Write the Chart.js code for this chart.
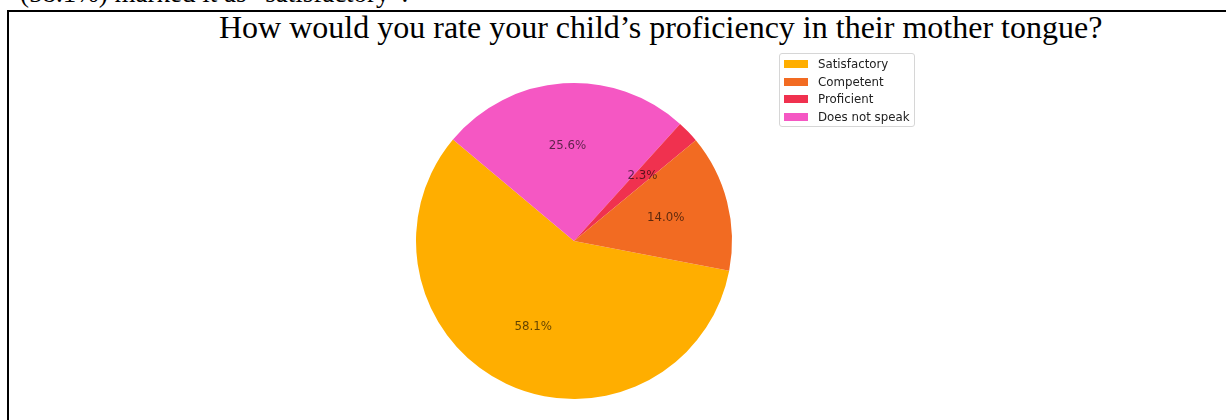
<!DOCTYPE html>
<html>
<head>
<meta charset="utf-8">
<script src="https://cdn.jsdelivr.net/npm/chart.js@4/dist/chart.umd.min.js"></script>
<style>
  html, body { margin: 0; padding: 0; background: #fff; }
  body { width: 1226px; height: 420px; position: relative; overflow: hidden; }
  .serif { font-family: "Liberation Serif", "Times New Roman", serif; color: #000; white-space: nowrap; position: absolute; }
  #prev { left: 20px; top: -19.6px; font-size: 27px; line-height: 27px; }
  #frame { position: absolute; left: 7px; top: 9.5px; right: -10px; bottom: -10px; border-left: 2px solid #000; border-top: 2px solid #000; }
  #title { left: 219px; top: 11.4px; font-size: 32px; line-height: 32px; }
  #pie { position: absolute; left: 0; top: 0; width: 1226px; height: 420px; }
  #legend { position: absolute; left: 779px; top: 53px; width: 134px; height: 72px; border: 1px solid #d6d6d6; border-radius: 3px; background: rgba(255,255,255,0.8); font-family: "DejaVu Sans", sans-serif; font-size: 11.8px; color: #222; }
  .item { position: absolute; left: 0; height: 14px; line-height: 14px; }
  .swatch { position: absolute; left: 4px; top: 3px; width: 24px; height: 8px; }
  .label { position: absolute; left: 38px; top: 0; white-space: nowrap; }
</style>
</head>
<body>
<div class="serif" id="prev">(58.1%) marked it as “satisfactory”.</div>
<div id="frame"></div>
<div class="serif" id="title">How would you rate your child’s proficiency in their mother tongue?</div>
<canvas id="pie" width="1226" height="420"></canvas>
<div id="legend"></div>
<script>
// Survey answers, in the order they appear in the legend
const categories = ['Satisfactory', 'Competent', 'Proficient', 'Does not speak'];
const shares = [58.1, 14.0, 2.3, 25.6];
const colors = ['#FFAE00', '#F26B22', '#F0314F', '#F557C3'];

// Wedges run counter-clockwise from 140°, so feed them clockwise to Chart.js
const drawOrder = [0, 3, 2, 1];
const startAngle = 140;              // counter-clockwise start, degrees from 3 o'clock
const firstShare = shares[0] / 100 * 360;
const rotation = 90 - (startAngle + firstShare) + 360; // Chart.js: clockwise from 12 o'clock

// Percentage text placed at 60% of the radius on each wedge
const pctLabels = {
  id: 'pctLabels',
  afterDatasetsDraw(chart) {
    const ctx = chart.ctx;
    const meta = chart.getDatasetMeta(0);
    const vals = chart.data.datasets[0].data;
    ctx.save();
    ctx.font = '11.8px "DejaVu Sans", sans-serif';
    ctx.fillStyle = 'rgba(0,0,0,0.62)';
    ctx.textAlign = 'center';
    ctx.textBaseline = 'middle';
    meta.data.forEach((arc, i) => {
      const p = arc.getProps(['x', 'y', 'startAngle', 'endAngle', 'outerRadius'], true);
      const mid = (p.startAngle + p.endAngle) / 2;
      const r = p.outerRadius * 0.6;
      ctx.fillText(vals[i].toFixed(1) + '%', p.x + r * Math.cos(mid), p.y + r * Math.sin(mid));
    });
    ctx.restore();
  }
};

new Chart(document.getElementById('pie'), {
  type: 'pie',
  data: {
    labels: drawOrder.map(i => categories[i]),
    datasets: [{
      data: drawOrder.map(i => shares[i]),
      backgroundColor: drawOrder.map(i => colors[i]),
      borderWidth: 0
    }]
  },
  options: {
    responsive: false,
    animation: false,
    rotation: rotation,
    layout: { padding: { left: 416, right: 1226 - 732, top: 83, bottom: 420 - 399 } },
    plugins: {
      legend: { display: false },
      title: { display: false },
      tooltip: { enabled: false }
    }
  },
  plugins: [pctLabels]
});

// Legend box, top right of the pie
const legend = document.getElementById('legend');
categories.forEach((name, i) => {
  const row = document.createElement('div');
  row.className = 'item';
  row.style.top = (3 + i * 17.5) + 'px';
  row.innerHTML = '<span class="swatch" style="background:' + colors[i] + '"></span><span class="label">' + name + '</span>';
  legend.appendChild(row);
});
</script>
</body>
</html>
